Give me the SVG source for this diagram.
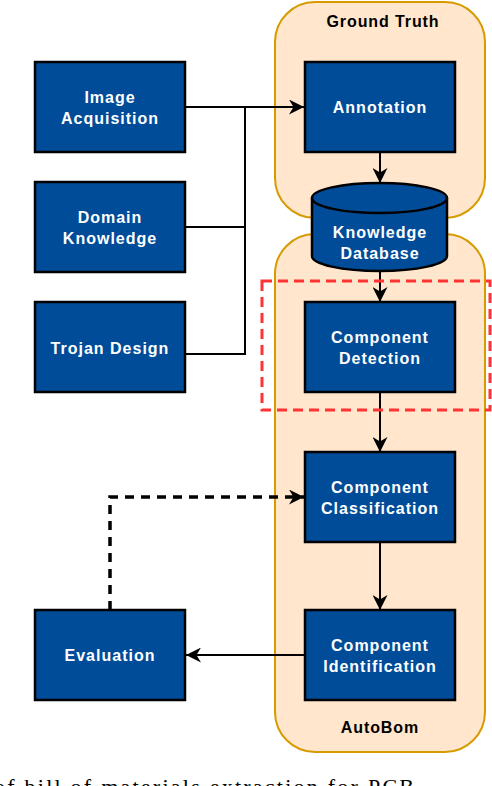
<svg xmlns="http://www.w3.org/2000/svg" width="492" height="786" viewBox="0 0 492 786">
<defs>
<marker id="arrB" viewBox="0 0 10 10" refX="10" refY="5" markerWidth="15" markerHeight="15" markerUnits="userSpaceOnUse" orient="auto">
<path d="M0,0 L10,5 L0,10 L3,5 z" fill="#000"/>
</marker>
<style>
.box{fill:#004C99;stroke:#000;stroke-width:2.5}
.cont{fill:#FFE6CC;stroke:#D79B00;stroke-width:2}
.t{font-family:"Liberation Sans",Arial,sans-serif;font-weight:bold;font-size:16px;letter-spacing:1px;fill:#fff;text-anchor:middle}
.lbl{font-family:"Liberation Sans",Arial,sans-serif;font-weight:bold;font-size:16px;letter-spacing:0.9px;fill:#000;text-anchor:middle}
.c{fill:none;stroke:#000;stroke-width:2}
.cap{font-family:"Liberation Serif","Times New Roman",serif;font-size:22px;fill:#000}
</style>
</defs>
<g id="groundtruth"><rect class="cont" x="275" y="2" width="210" height="216" rx="40"/><text class="lbl" x="383" y="27">Ground Truth</text></g>
<g id="autobom"><rect class="cont" x="275" y="234" width="210" height="518" rx="40"/><text class="lbl" x="380" y="733">AutoBom</text></g>
<g id="connectors">
<path class="c" d="M185,107 H304" marker-end="url(#arrB)"/>
<path class="c" d="M245,107 V354 H185"/>
<path class="c" d="M185,227 H245"/>
<path class="c" d="M380,152 V183" marker-end="url(#arrB)"/>
<path class="c" d="M380,271 V302" marker-end="url(#arrB)"/>
<path class="c" d="M380,392 V452" marker-end="url(#arrB)"/>
<path class="c" d="M380,542 V610" marker-end="url(#arrB)"/>
<path class="c" d="M305,655 H186" marker-end="url(#arrB)"/>
<path d="M110,610 V497 H304" fill="none" stroke="#000" stroke-width="3.5" stroke-dasharray="9,7" marker-end="url(#arrB)"/>
</g>
<g id="image-acquisition"><rect class="box" x="35" y="62" width="150" height="90"/><text class="t" x="110" y="103">Image</text><text class="t" x="110" y="124">Acquisition</text></g>
<g id="domain-knowledge"><rect class="box" x="35" y="182" width="150" height="90"/><text class="t" x="110" y="223">Domain</text><text class="t" x="110" y="244">Knowledge</text></g>
<g id="trojan-design"><rect class="box" x="35" y="302" width="150" height="90"/><text class="t" x="110" y="354">Trojan Design</text></g>
<g id="annotation"><rect class="box" x="305" y="62" width="150" height="90"/><text class="t" x="380" y="113">Annotation</text></g>
<g id="knowledge-database">
<path class="box" d="M312,198 A67.5,15 0 0 1 447,198 V256 A67.5,15 0 0 1 312,256 Z"/>
<path d="M312,198 A67.5,15 0 0 0 447,198" fill="none" stroke="#000" stroke-width="2.5"/>
<text class="t" x="380" y="238">Knowledge</text><text class="t" x="380" y="259">Database</text>
</g>
<g id="component-detection"><rect class="box" x="305" y="302" width="150" height="90"/><text class="t" x="380" y="343">Component</text><text class="t" x="380" y="364">Detection</text></g>
<g id="component-classification"><rect class="box" x="305" y="452" width="150" height="90"/><text class="t" x="380" y="493">Component</text><text class="t" x="380" y="514">Classification</text></g>
<g id="component-identification"><rect class="box" x="305" y="610" width="150" height="90"/><text class="t" x="380" y="651">Component</text><text class="t" x="380" y="672">Identification</text></g>
<g id="evaluation"><rect class="box" x="35" y="610" width="150" height="90"/><text class="t" x="110" y="661">Evaluation</text></g>
<g id="highlight"><rect x="262" y="281" width="228" height="129" fill="none" stroke="#FF3333" stroke-width="3" stroke-dasharray="10,6"/></g>
<text class="cap" x="-6" y="794" textLength="420">of bill of materials extraction for PCB</text>
</svg>
